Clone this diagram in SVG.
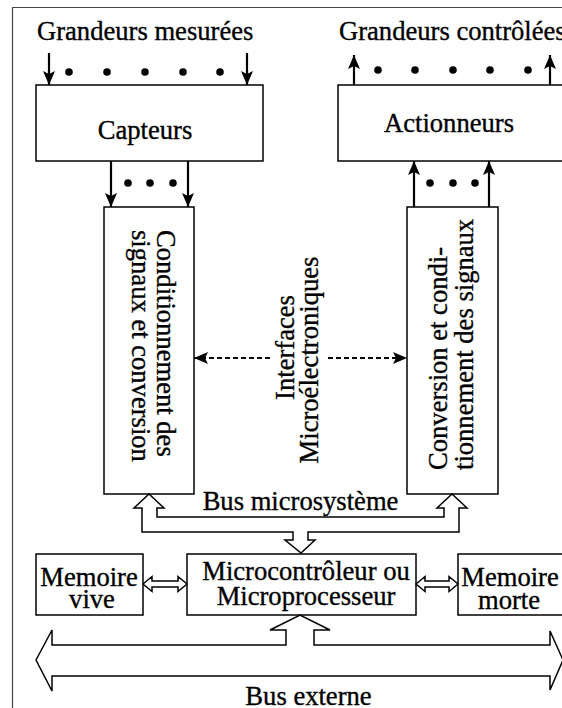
<svg xmlns="http://www.w3.org/2000/svg" width="562" height="708" viewBox="0 0 562 708">
<style>
text{font-family:"Liberation Serif","Times New Roman",serif;font-size:26.6px;fill:#000;stroke:#000;stroke-width:0.35}
.box{fill:#fff;stroke:#000;stroke-width:1.5}
.hol{fill:#fff;stroke:#000;stroke-width:1.5;stroke-linejoin:miter}
.ar{stroke:#000;stroke-width:2.2;fill:none}
.da{stroke:#000;stroke-width:2;fill:none;stroke-dasharray:5,3}
.m{text-anchor:middle}
</style>
<defs>
<marker id="ah" viewBox="0 0 14 12" refX="14" refY="6" markerWidth="14" markerHeight="12" orient="auto-start-reverse" markerUnits="userSpaceOnUse"><path d="M0,0 L14,6 L0,12 L3,6 z" fill="#000"/></marker>
</defs>
<rect x="0" y="0" width="562" height="708" fill="#fff"/>
<path d="M12.5,708 V7.5 H562" fill="none" stroke="#444" stroke-width="1.2"/>

<g id="label-mesurees"><text x="37" y="40">Grandeurs mesurées</text></g>
<g id="label-controlees"><text x="339" y="40">Grandeurs contrôlées</text></g>

<g id="capteurs"><rect class="box" x="36" y="85" width="227" height="76"/><text class="m" x="145" y="139">Capteurs</text></g>
<g id="actionneurs"><rect class="box" x="338" y="85" width="226" height="76"/><text class="m" x="449" y="132">Actionneurs</text></g>

<g id="conditionnement"><rect class="box" x="104" y="207" width="90" height="287"/>
<text transform="translate(157,230) rotate(90)"><tspan x="0" y="0">Conditionnement des</tspan><tspan x="0" y="25">signaux et conversion</tspan></text></g>

<g id="conversion"><rect class="box" x="407" y="207" width="91" height="287"/>
<text transform="translate(447,470) rotate(-90)"><tspan x="0" y="0">Conversion et condi-</tspan><tspan x="0" y="26">tionnement des signaux</tspan></text></g>

<g id="interfaces">
<text class="m" transform="translate(294,347.5) rotate(-90)">Interfaces</text>
<text class="m" transform="translate(318,360) rotate(-90)">Microélectroniques</text>
</g>

<g id="microcontroleur"><rect class="box" x="187" y="554" width="229" height="61"/>
<text class="m" x="306" y="580">Microcontrôleur ou</text><text class="m" x="306" y="605">Microprocesseur</text></g>
<g id="memoire-vive"><rect class="box" x="36" y="554" width="107" height="61"/>
<text class="m" x="89" y="586">Memoire</text><text class="m" x="92" y="608">vive</text></g>
<g id="memoire-morte"><rect class="box" x="458" y="554" width="106" height="61"/>
<text class="m" x="510" y="586">Memoire</text><text class="m" x="509" y="609">morte</text></g>

<g id="connectors">
<line class="ar" x1="49" y1="53" x2="49" y2="85" marker-end="url(#ah)"/>
<line class="ar" x1="247" y1="53" x2="247" y2="85" marker-end="url(#ah)"/>
<line class="ar" x1="354" y1="85" x2="354" y2="55" marker-end="url(#ah)"/>
<line class="ar" x1="550" y1="85" x2="550" y2="55" marker-end="url(#ah)"/>
<line class="ar" x1="111" y1="161" x2="111" y2="207" marker-end="url(#ah)"/>
<line class="ar" x1="188" y1="161" x2="188" y2="207" marker-end="url(#ah)"/>
<line class="ar" x1="414" y1="207" x2="414" y2="161" marker-end="url(#ah)"/>
<line class="ar" x1="489" y1="207" x2="489" y2="161" marker-end="url(#ah)"/>
<line class="da" x1="270" y1="358" x2="194" y2="358" marker-end="url(#ah)"/>
<line class="da" x1="328" y1="358" x2="407" y2="358" marker-end="url(#ah)"/>
<g fill="#000">
<circle cx="69" cy="72" r="3.8"/><circle cx="107" cy="72" r="3.8"/><circle cx="145" cy="72" r="3.8"/><circle cx="183" cy="72" r="3.8"/><circle cx="220" cy="72" r="3.8"/>
<circle cx="378" cy="70" r="3.8"/><circle cx="415" cy="70" r="3.8"/><circle cx="453" cy="70" r="3.8"/><circle cx="490" cy="70" r="3.8"/><circle cx="528" cy="70" r="3.8"/>
<circle cx="128" cy="183" r="3.8"/><circle cx="150" cy="183" r="3.8"/><circle cx="173" cy="183" r="3.8"/>
<circle cx="430" cy="183" r="3.8"/><circle cx="453" cy="183" r="3.8"/><circle cx="475" cy="183" r="3.8"/>
</g>
<polygon class="hol" points="149,494 164,508 157,508 157,517 444,517 444,508 437,508 452,494 467,508 459,508 459,532 308,532 308,540 315,540 301,553 285,540 293,540 293,532 142,532 142,508 134,508"/>
<polygon class="hol" points="143,584 152,576.5 152,581 178,581 178,576.5 187,584 178,591.5 178,587 152,587 152,591.5"/>
<polygon class="hol" points="416,584 425,576.5 425,581 449,581 449,576.5 458,584 449,591.5 449,587 425,587 425,591.5"/>
<polygon class="hol" points="36,660 52,630 52,645 286,645 286,630 270,630 300,615 330,630 314,630 314,645 550,645 550,631 563,660 550,690 550,676 52,676 52,691"/>
</g>
<g id="bus-labels">
<text class="m" x="300.5" y="510">Bus microsystème</text>
<text class="m" x="308.5" y="705">Bus externe</text>
</g>
</svg>
